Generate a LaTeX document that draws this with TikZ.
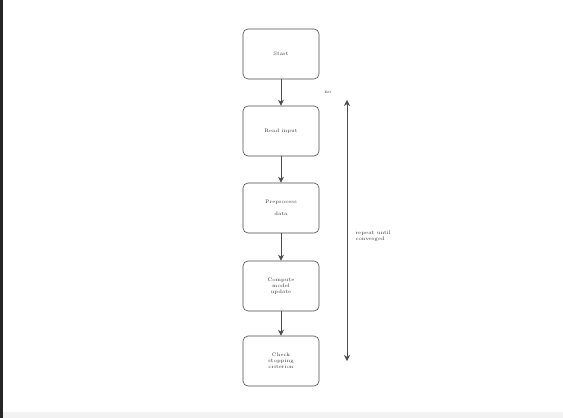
\documentclass[tikz,border=0pt]{standalone}
\usetikzlibrary{arrows.meta}
\begin{document}
\begin{tikzpicture}[x=1pt,y=-1pt,
  box/.style={draw=black!70,line width=0.6pt,rounded corners=5pt,minimum width=76pt,minimum height=50pt,align=center,font=\fontsize{5}{6}\selectfont,text=black!80},
  arr/.style={-{Stealth[length=6pt,width=6pt]},line width=0.6pt,draw=black!70},
  lbl/.style={font=\fontsize{5}{6}\selectfont,text=black!80,align=left}]
\useasboundingbox (0,0) rectangle (563,418);
\fill[white] (0,0) rectangle (563,418);
\fill[black!5] (0,412) rectangle (563,418);
\fill[black!85] (0,0) rectangle (2.5,418);
\node[box] (b1) at (281,54) {Start};
\node[box] (b2) at (281,131) {Read input};
\node[box] (b3) at (281,208) {Preprocess\\[6pt]data};
\node[box] (b4) at (281,286) {Compute\\model\\update};
\node[box] (b5) at (281,361) {Check\\stopping\\criterion};
\draw[arr] (b1) -- (b2);
\draw[arr] (b2) -- (b3);
\draw[arr] (b3) -- (b4);
\draw[arr] (b4) -- (b5);
\coordinate (top) at (347,100);
\coordinate (bot) at (347,361);
\draw[arr,{Stealth[length=6pt,width=6pt]}-{Stealth[length=6pt,width=6pt]}] (top) -- (bot);
\node[lbl] (t1) at (328,92) {no};
\node[lbl,anchor=west] (t2) at (352,236) {repeat until\\converged};
\end{tikzpicture}
\end{document}
